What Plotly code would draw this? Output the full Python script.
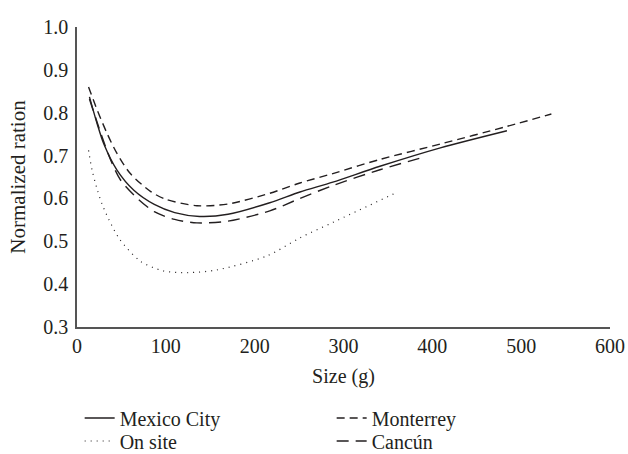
import plotly.graph_objects as go

# Data
mexico_x = [14, 23, 30, 45, 64, 87, 110, 138, 170, 217, 251, 288, 341, 409, 484]
mexico_y = [0.837, 0.772, 0.728, 0.666, 0.619, 0.586, 0.567, 0.558, 0.563, 0.59, 0.615, 0.638, 0.675, 0.718, 0.758]

monterrey_x = [13, 23, 34, 45, 60, 83, 100, 135, 170, 217, 251, 288, 341, 409, 484, 534]
monterrey_y = [0.86, 0.805, 0.751, 0.705, 0.658, 0.616, 0.598, 0.583, 0.587, 0.612, 0.636, 0.658, 0.691, 0.727, 0.768, 0.797]

cancun_x = [14, 27, 38, 49, 68, 87, 110, 135, 170, 217, 251, 288, 341, 393]
cancun_y = [0.832, 0.751, 0.689, 0.643, 0.60, 0.569, 0.551, 0.543, 0.547, 0.571, 0.60, 0.63, 0.667, 0.698]

onsite_x = [13, 17, 23, 28, 36, 48, 71, 97, 125, 157, 214, 251, 288, 361]
onsite_y = [0.712, 0.666, 0.619, 0.588, 0.55, 0.505, 0.454, 0.431, 0.427, 0.433, 0.466, 0.508, 0.544, 0.615]

x_ticks = [0, 100, 200, 300, 400, 500, 600]
y_ticks = [0.3, 0.4, 0.5, 0.6, 0.7, 0.8, 0.9, 1.0]

INK = "#231f20"
FONT = "Liberation Serif"
FS = 20

fig = go.Figure()
fig.add_trace(go.Scatter(x=mexico_x, y=mexico_y, name="Mexico City", mode="lines", legend="legend",
                         line=dict(color=INK, width=1.4, dash="solid", shape="spline", smoothing=0.8)))
fig.add_trace(go.Scatter(x=monterrey_x, y=monterrey_y, name="Monterrey", mode="lines", legend="legend",
                         line=dict(color=INK, width=1.4, dash="8px,5px", shape="spline", smoothing=0.8)))
fig.add_trace(go.Scatter(x=onsite_x, y=onsite_y, name="On site", mode="lines", legend="legend2",
                         line=dict(color=INK, width=1.2, dash="1px,5px", shape="spline", smoothing=0.8)))
fig.add_trace(go.Scatter(x=cancun_x, y=cancun_y, name="Cancún", mode="lines", legend="legend2",
                         line=dict(color=INK, width=1.4, dash="12px,7px", shape="spline", smoothing=0.8)))

legend_common = dict(orientation="h", x=0.005, xanchor="left", yanchor="middle",
                     entrywidth=207, entrywidthmode="pixels", itemwidth=30,
                     bgcolor="rgba(0,0,0,0)", font=dict(family=FONT, size=20, color=INK))

fig.update_layout(
    width=628, height=454,
    margin=dict(l=77, r=18, t=27, b=127, autoexpand=False),
    paper_bgcolor="white", plot_bgcolor="white",
    font=dict(family=FONT, size=FS, color=INK),
    showlegend=True,
    legend=dict(y=-0.3033, **legend_common),
    legend2=dict(y=-0.38, **legend_common),
)
fig.update_xaxes(range=[0, 600], tickvals=x_ticks, ticktext=[str(v) for v in x_ticks],
                 showgrid=False, zeroline=False, showline=True, linecolor="#555555", linewidth=1.5,
                 ticks="", automargin=False, tickfont=dict(size=FS),
                 title=dict(text="Size (g)", standoff=13, font=dict(size=FS)))
fig.update_yaxes(range=[0.3, 1.0], tickvals=y_ticks, ticktext=[f"{v:.1f}" for v in y_ticks],
                 showgrid=False, zeroline=False, showline=True, linecolor="#555555", linewidth=1.5,
                 ticks="", automargin=False, ticklabelstandoff=3, tickfont=dict(size=FS),
                 title=dict(text="Normalized ration", standoff=12, font=dict(size=21)))

# Remove the default 8px page margin so the figure sits at the window origin.
fig.write_html("out.html", config={"displayModeBar": False},
               post_script="document.body.style.margin='0';document.body.style.overflow='hidden';")
